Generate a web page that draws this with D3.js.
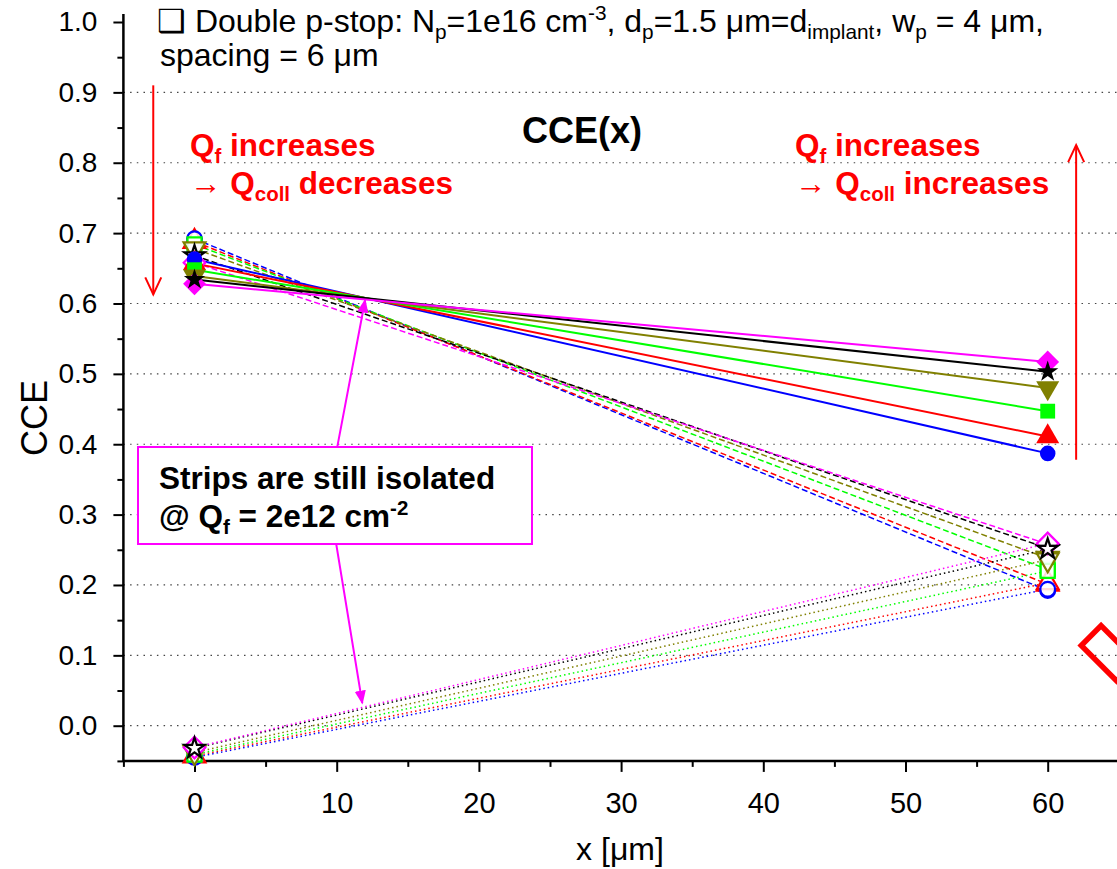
<!DOCTYPE html>
<html>
<head>
<meta charset="utf-8">
<script src="https://cdn.jsdelivr.net/npm/d3@7"></script>
<style>
  body { margin: 0; background: #fff; }
  text { font-family: Arial, "Liberation Sans", sans-serif; }
</style>
</head>
<body>
<svg id="chart" width="1117" height="869"></svg>
<script>
// positions along x where CCE was simulated
var xPos = [0, 60];

// one entry per fixed-charge value (Qf), same order everywhere
var seriesColors = ["#0000ff", "#ff0000", "#00ff00", "#808000", "#000000", "#ff00ff"];
var seriesSymbols = ["circle", "triangle", "square", "triangleDown", "star", "diamond"];

// solid lines, filled symbols
var cceSolid = [
  [0.663, 0.387],
  [0.657, 0.411],
  [0.648, 0.447],
  [0.639, 0.480],
  [0.634, 0.503],
  [0.628, 0.517]
];
// dashed lines, open symbols
var cceDashed = [
  [0.692, 0.192],
  [0.688, 0.201],
  [0.684, 0.222],
  [0.678, 0.238],
  [0.668, 0.252],
  [0.658, 0.258]
];
// dotted lines, open symbols
var cceDotted = [
  [-0.045, 0.194],
  [-0.043, 0.203],
  [-0.041, 0.220],
  [-0.038, 0.236],
  [-0.032, 0.251],
  [-0.031, 0.259]
];

var xMajorTicks = [0, 10, 20, 30, 40, 50, 60];
var xMinorTicks = [-5, 5, 15, 25, 35, 45, 55, 65];
var yMajorTicks = [0.0, 0.1, 0.2, 0.3, 0.4, 0.5, 0.6, 0.7, 0.8, 0.9, 1.0];
var yMinorTicks = [-0.05, 0.05, 0.15, 0.25, 0.35, 0.45, 0.55, 0.65, 0.75, 0.85, 0.95];
var yGrid = [0.0, 0.1, 0.2, 0.3, 0.4, 0.5, 0.6, 0.7, 0.8, 0.9];

var svg = d3.select("#chart"),
    width = +svg.attr("width"),
    height = +svg.attr("height");

var x = d3.scaleLinear().domain([-5, 65]).range([123.4, 1118.8]);
var y = d3.scaleLinear().domain([-0.05, 1.0]).range([760.9, 22]);

// grid
svg.append("g")
    .selectAll("line")
    .data(yGrid)
    .enter().append("line")
    .attr("x1", x(-5)).attr("x2", width)
    .attr("y1", function(d) { return y(d); })
    .attr("y2", function(d) { return y(d); })
    .attr("stroke", "#444")
    .attr("stroke-width", 1.2)
    .attr("stroke-dasharray", "1.5,5.2");

// axes
var xAxis = svg.append("g")
    .attr("transform", "translate(0," + y(-0.05) + ")")
    .call(d3.axisBottom(x).tickValues(xMajorTicks).tickSize(11).tickPadding(21)
        .tickFormat(d3.format("d")));
svg.append("g")
    .attr("transform", "translate(0," + y(-0.05) + ")")
    .call(d3.axisBottom(x).tickValues(xMinorTicks).tickSize(6).tickFormat(""));

var yAxis = svg.append("g")
    .attr("transform", "translate(" + x(-5) + ",0)")
    .call(d3.axisLeft(y).tickValues(yMajorTicks).tickSize(10).tickPadding(16)
        .tickFormat(d3.format(".1f")));
svg.append("g")
    .attr("transform", "translate(" + x(-5) + ",0)")
    .call(d3.axisLeft(y).tickValues(yMinorTicks).tickSize(6).tickFormat(""));

svg.selectAll(".domain").remove();
svg.selectAll(".tick line").attr("stroke", "#000").attr("stroke-width", 2);
xAxis.selectAll(".tick text").attr("font-size", 29).attr("fill", "#000")
    .style("font-family", "Arial, 'Liberation Sans', sans-serif");
yAxis.selectAll(".tick text").attr("font-size", 28).attr("fill", "#000")
    .style("font-family", "Arial, 'Liberation Sans', sans-serif");

svg.append("line")
    .attr("x1", x(-5)).attr("x2", width)
    .attr("y1", y(-0.05)).attr("y2", y(-0.05))
    .attr("stroke", "#000").attr("stroke-width", 2.5);
svg.append("line")
    .attr("x1", x(-5)).attr("x2", x(-5))
    .attr("y1", y(-0.05)).attr("y2", y(1.0) - 8)
    .attr("stroke", "#000").attr("stroke-width", 2.5);

// axis titles
svg.append("text")
    .attr("x", 620).attr("y", 860)
    .attr("text-anchor", "middle")
    .attr("font-size", 32)
    .text("x [\u03bcm]");
svg.append("text")
    .attr("transform", "translate(47,418) rotate(-90)")
    .attr("text-anchor", "middle")
    .attr("font-size", 36)
    .text("CCE");

// series lines
var line = d3.line()
    .x(function(d, i) { return x(xPos[i]); })
    .y(function(d) { return y(d); });

function drawLines(values, dash, w) {
    svg.append("g")
        .selectAll("path")
        .data(values)
        .enter().append("path")
        .attr("d", line)
        .attr("fill", "none")
        .attr("stroke", function(d, i) { return seriesColors[i]; })
        .attr("stroke-width", w)
        .attr("stroke-dasharray", dash);
}
drawLines(cceDashed, "6,3", 1.5);
drawLines(cceDotted, "1.5,3", 1.5);
drawLines(cceSolid, null, 2);

var symbolTypes = {
    circle: [d3.symbolCircle, 190, 0],
    triangle: [d3.symbolTriangle, 230, 0],
    square: [d3.symbolSquare, 220, 0],
    triangleDown: [d3.symbolTriangle, 230, 180],
    star: [d3.symbolStar, 140, 0],
    diamond: [d3.symbolSquare, 260, 45]
};

// red under blue, black (star) last so it shows inside the diamond
var drawOrder = [1, 0, 2, 3, 5, 4];

function drawMarkers(values, filled) {
    var pts = [];
    drawOrder.forEach(function(s) {
        values[s].forEach(function(v, i) { pts.push({ s: s, x: xPos[i], v: v }); });
    });
    svg.append("g")
        .selectAll("path")
        .data(pts)
        .enter().append("path")
        .attr("d", function(d) {
            var t = symbolTypes[seriesSymbols[d.s]];
            return d3.symbol().type(t[0]).size(filled ? t[1] : t[1] * 0.9)();
        })
        .attr("transform", function(d) {
            var t = symbolTypes[seriesSymbols[d.s]];
            return "translate(" + x(d.x) + "," + y(d.v) + ") rotate(" + t[2] + ")";
        })
        .attr("fill", function(d) { return filled ? seriesColors[d.s] : "#fff"; })
        .attr("fill-opacity", filled ? 1 : 0.85)
        .attr("stroke", function(d) { return seriesColors[d.s]; })
        .attr("stroke-width", filled ? 0 : 2.2);
}
drawMarkers(cceDashed, false);
drawMarkers(cceDotted, false);
drawMarkers(cceSolid, true);

// partly visible open diamond at the right border
var edgeSymbol = { x: 64.3, v: 0.103 };
svg.append("rect")
    .attr("x", -25).attr("y", -14).attr("width", 50).attr("height", 28)
    .attr("transform", "translate(" + x(edgeSymbol.x) + "," + y(edgeSymbol.v) + ") rotate(45)")
    .attr("fill", "none")
    .attr("stroke", "#ff0000")
    .attr("stroke-width", 5.5);

// rich text helper: parts are [string, "", "sub" or "sup"]
function rich(sel, parts, size) {
    var shift = 0;
    parts.forEach(function(p) {
        var ts = sel.append("tspan").text(p[0]);
        var want = p[1] === "sub" ? size * 0.22 : p[1] === "sup" ? -size * 0.38 : 0;
        if (want !== shift) ts.attr("dy", want - shift);
        shift = want;
        if (p[1]) ts.attr("font-size", size * 0.65);
    });
}

var head = svg.append("text").attr("x", 157).attr("y", 32).attr("font-size", 32);
rich(head, [
    ["\u2751 Double p-stop: N", ""], ["p", "sub"], ["=1e16 cm", ""], ["-3", "sup"],
    [", d", ""], ["p", "sub"], ["=1.5 \u03bcm=d", ""], ["implant", "sub"],
    [", w", ""], ["p", "sub"], [" = 4 \u03bcm,", ""]
], 32);
svg.append("text").attr("x", 160).attr("y", 66).attr("font-size", 32).text("spacing = 6 \u03bcm");

svg.append("text")
    .attr("x", 582).attr("y", 143)
    .attr("text-anchor", "middle")
    .attr("font-size", 36).attr("font-weight", "bold")
    .text("CCE(x)");

function redNote(x0, verb) {
    var t1 = svg.append("text").attr("x", x0).attr("y", 156)
        .attr("font-size", 31.5).attr("font-weight", "bold").attr("fill", "#ff0000");
    rich(t1, [["Q", ""], ["f", "sub"], [" increases", ""]], 31.5);
    var t2 = svg.append("text").attr("x", x0).attr("y", 194)
        .attr("font-size", 31.5).attr("font-weight", "bold").attr("fill", "#ff0000");
    rich(t2, [["\u2192 Q", ""], ["coll", "sub"], [" " + verb, ""]], 31.5);
}
redNote(190, "decreases");
redNote(795, "increases");

// red arrows: [x, from, to]
var redArrows = [[-2.9, 0.91, 0.613], [62.0, 0.378, 0.825]];
redArrows.forEach(function(a) {
    var xa = x(a[0]), y0 = y(a[1]), y1 = y(a[2]);
    var dir = y1 > y0 ? 1 : -1;
    svg.append("line")
        .attr("x1", xa).attr("x2", xa).attr("y1", y0).attr("y2", y1)
        .attr("stroke", "#ff0000").attr("stroke-width", 2);
    svg.append("path")
        .attr("d", "M" + (xa - 8) + "," + (y1 - dir * 17) + "L" + xa + "," + y1 + "L" + (xa + 8) + "," + (y1 - dir * 17))
        .attr("fill", "none").attr("stroke", "#ff0000").attr("stroke-width", 2);
});

// magenta double arrow behind the note box
var defs = svg.append("defs");
defs.append("marker")
    .attr("id", "mhead")
    .attr("viewBox", "0 0 10 10")
    .attr("refX", 9).attr("refY", 5)
    .attr("markerWidth", 7).attr("markerHeight", 7)
    .attr("markerUnits", "strokeWidth")
    .attr("orient", "auto-start-reverse")
    .append("path").attr("d", "M0,1L10,5L0,9Z").attr("fill", "#ff00ff");

var arrowPts = [[12.0, 0.605], [9.4, 0.328], [11.8, 0.032]];
svg.append("path")
    .attr("d", d3.line()
        .x(function(d) { return x(d[0]); })
        .y(function(d) { return y(d[1]); })(arrowPts))
    .attr("fill", "none")
    .attr("stroke", "#ff00ff").attr("stroke-width", 2)
    .attr("marker-start", "url(#mhead)")
    .attr("marker-end", "url(#mhead)");

svg.append("rect")
    .attr("x", 138).attr("y", 447).attr("width", 394).attr("height", 97)
    .attr("fill", "#fff").attr("stroke", "#ff00ff").attr("stroke-width", 2);
svg.append("text").attr("x", 159).attr("y", 489)
    .attr("font-size", 31.5).attr("font-weight", "bold").text("Strips are still isolated");
var n2 = svg.append("text").attr("x", 159).attr("y", 527)
    .attr("font-size", 31.5).attr("font-weight", "bold");
rich(n2, [["@ Q", ""], ["f", "sub"], [" = 2e12 cm", ""], ["-2", "sup"]], 31.5);
</script>
</body>
</html>
